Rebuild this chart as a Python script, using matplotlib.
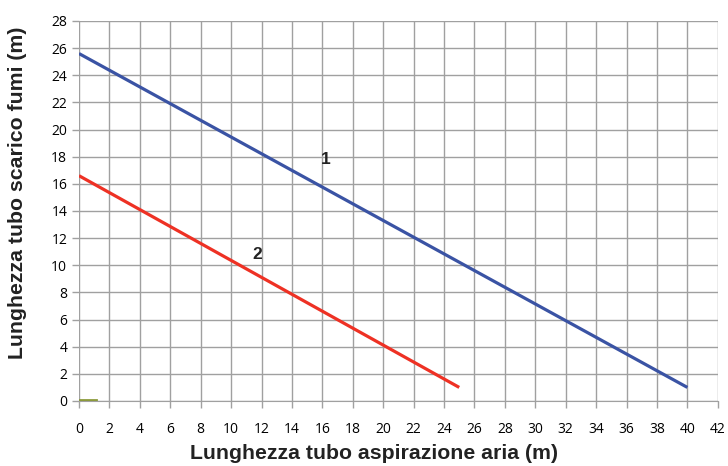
import matplotlib
matplotlib.use('Agg')
import matplotlib.pyplot as plt

# Curve 1 and curve 2 (straight lines, end points)
curve1_x = [0, 40]
curve1_y = [25.6, 1.0]
curve2_x = [0, 25]
curve2_y = [16.6, 1.0]
# tiny olive stub on the x axis
stub_x = [0, 1.1]
stub_y = [0.05, 0.05]

x_ticks = list(range(0, 43, 2))
y_ticks = list(range(0, 29, 2))

fig = plt.figure(figsize=(7.28, 4.66), dpi=100)
ax = fig.add_axes([0.1085, 0.1395, 0.8775, 0.8155])

grid_col = '#a0a0a0'
ax.plot(curve1_x, curve1_y, color='#3a53a4', linewidth=2.3, solid_capstyle='butt', zorder=3)
ax.plot(curve2_x, curve2_y, color='#ee3124', linewidth=2.3, solid_capstyle='butt', zorder=3)
ax.plot(stub_x, stub_y, color='#8c9a3c', linewidth=2, zorder=3)

ax.text(16.2, 17.8, '1', fontsize=12.5, fontweight='bold', family='Liberation Sans',
        ha='center', va='center', color='#222222')
ax.text(11.7, 10.8, '2', fontsize=12.5, fontweight='bold', family='Liberation Sans',
        ha='center', va='center', color='#222222')

ax.set_xlim(0, 42)
ax.set_ylim(0, 28)
ax.set_xticks(x_ticks)
ax.set_yticks(y_ticks)
ax.grid(True, color=grid_col, linewidth=1)
ax.set_axisbelow(True)
for s in ['top', 'right', 'left']:
    ax.spines[s].set_visible(False)
ax.spines['bottom'].set_color(grid_col)
ax.tick_params(axis='both', colors=grid_col, length=5, width=1,
               labelcolor='black', labelsize=10)
ax.tick_params(axis='x', pad=10)
for lab in ax.get_xticklabels() + ax.get_yticklabels():
    lab.set_family('Open Sans')

ax.set_xlabel('Lunghezza tubo aspirazione aria (m)', fontsize=15.3, fontweight='bold',
              family='Liberation Sans', color='#222222')
ax.set_ylabel('Lunghezza tubo scarico fumi (m)', fontsize=15.3, fontweight='bold',
              family='Liberation Sans', color='#222222')
ax.xaxis.set_label_coords(0.4617, -0.113)
ax.yaxis.set_label_coords(-0.082, 0.547)

fig.savefig('out.png', dpi=100)
